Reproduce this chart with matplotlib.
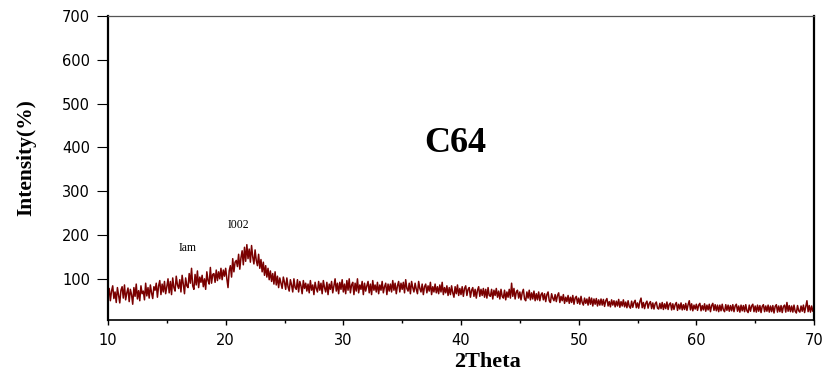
import numpy as np
import matplotlib
matplotlib.use("Agg")
import matplotlib.pyplot as plt

# ---------------------------
# Data (0.1 deg steps)
# ---------------------------
theta_start, theta_step = 10.0, 0.1

intensity = [
    60, 78, 50, 72, 84, 55, 70, 46, 80, 62,          # 10
    45, 74, 82, 56, 86, 52, 68, 79, 48, 76,          # 11
    64, 42, 80, 60, 88, 54, 73, 50, 84, 66,          # 12
    72, 52, 90, 61, 80, 56, 86, 68, 55, 82,          # 13
    74, 90, 58, 84, 96, 64, 88, 70, 94, 66,          # 14
    82, 100, 68, 94, 64, 102, 80, 72, 106, 86,       # 15
    78, 98, 70, 108, 88, 66, 102, 84, 80, 112,       # 16
    90, 124, 84, 76, 110, 86, 118, 80, 104, 92,      # 17
    108, 82, 100, 76, 116, 96, 88, 126, 90, 110,     # 18
    112, 92, 120, 96, 116, 100, 124, 98, 120, 106,   # 19
    124, 100, 80, 118, 130, 104, 146, 116, 138, 142, # 20
    128, 156, 122, 148, 164, 132, 172, 140, 178, 146,  # 21
    168, 138, 176, 150, 134, 166, 142, 130, 156, 124,  # 22
    144, 116, 138, 108, 130, 104, 124, 98, 118, 94,  # 23
    112, 88, 116, 86, 106, 80, 102, 90, 78, 104,     # 24
    92, 76, 102, 82, 72, 98, 86, 70, 100, 80,        # 25
    76, 98, 70, 94, 84, 66, 96, 78, 90, 72,          # 26
    88, 68, 96, 74, 86, 64, 92, 78, 70, 94,          # 27
    74, 90, 66, 96, 80, 70, 92, 64, 88, 76,          # 28
    94, 68, 84, 100, 72, 90, 66, 92, 76, 98,         # 29
    70, 88, 66, 96, 74, 100, 68, 86, 92, 64,         # 30
    90, 72, 100, 68, 86, 76, 94, 64, 90, 72,         # 31
    84, 94, 68, 88, 64, 96, 74, 86, 70, 92,          # 32
    66, 86, 74, 94, 68, 82, 90, 64, 88, 72,          # 33
    88, 70, 96, 74, 90, 66, 84, 94, 70, 90,          # 34
    76, 92, 68, 98, 78, 72, 90, 66, 94, 80,          # 35
    70, 90, 76, 66, 94, 78, 70, 88, 64, 82,          # 36
    88, 68, 84, 72, 92, 64, 82, 70, 88, 68,          # 37
    82, 66, 86, 70, 92, 64, 80, 68, 84, 62,          # 38
    80, 64, 84, 68, 58, 82, 66, 86, 62, 78,          # 39
    64, 82, 60, 78, 84, 62, 76, 80, 58, 74,          # 40
    80, 60, 76, 56, 74, 82, 60, 76, 62, 78,          # 41
    58, 76, 56, 80, 62, 60, 76, 54, 74, 62,          # 42
    78, 58, 72, 54, 76, 60, 56, 74, 52, 70,          # 43
    58, 76, 56, 90, 60, 78, 54, 70, 74, 56,          # 44
    70, 52, 68, 76, 54, 50, 70, 56, 74, 52,          # 45
    68, 54, 72, 50, 66, 52, 70, 50, 64, 68,          # 46
    52, 66, 48, 64, 70, 50, 46, 66, 56, 50,          # 47
    64, 48, 62, 68, 46, 60, 50, 64, 44, 58,          # 48
    48, 62, 44, 58, 46, 62, 42, 56, 60, 44,          # 49
    56, 42, 60, 46, 40, 56, 44, 54, 40, 58,          # 50
    42, 56, 38, 54, 42, 55, 38, 52, 40, 54,          # 51
    40, 53, 37, 50, 55, 38, 48, 36, 52, 40,          # 52
    50, 36, 49, 38, 53, 35, 48, 38, 52, 36,          # 53
    47, 34, 50, 37, 33, 49, 35, 46, 51, 34,          # 54
    45, 33, 48, 56, 34, 46, 32, 44, 49, 33,          # 55
    44, 48, 32, 45, 31, 43, 47, 33, 31, 44,          # 56
    32, 46, 30, 43, 32, 47, 30, 42, 45, 29,          # 57
    43, 30, 41, 46, 28, 42, 31, 45, 29, 41,          # 58
    30, 44, 28, 41, 50, 29, 43, 27, 40, 31,          # 59
    42, 28, 40, 44, 27, 39, 29, 43, 26, 40,          # 60
    29, 42, 25, 39, 44, 28, 41, 27, 40, 25,          # 61
    40, 27, 42, 29, 25, 41, 28, 40, 26, 39,          # 62
    27, 41, 25, 38, 42, 26, 38, 24, 40, 27,          # 63
    39, 25, 41, 27, 23, 40, 26, 38, 42, 25,          # 64
    38, 24, 40, 26, 39, 23, 37, 41, 25, 38,          # 65
    26, 40, 24, 38, 25, 39, 22, 37, 41, 24,          # 66
    38, 25, 39, 23, 37, 40, 24, 46, 26, 39,          # 67
    25, 38, 24, 40, 26, 22, 39, 27, 24, 38,          # 68
    26, 40, 23, 37, 50, 25, 39, 24, 38, 26,          # 69
    36,                                              # 70
]
two_theta = np.round(theta_start + theta_step * np.arange(len(intensity)), 1)

x_ticks = [10, 20, 30, 40, 50, 60, 70]
y_ticks = [100, 200, 300, 400, 500, 600, 700]

sample_name = "C64"
peak_labels = [("Iam", 16.8, 170), ("I002", 21.05, 222)]

LINE_COLOR = "#7a0000"
SERIF = ["Liberation Serif", "DejaVu Serif"]

# ---------------------------
# Plot
# ---------------------------
fig = plt.figure(figsize=(8.27, 3.72), dpi=100)
ax = fig.add_axes([108 / 827, 52 / 372, 706 / 827, 304 / 372])

ax.plot(two_theta, intensity, color=LINE_COLOR, linewidth=1.1)

ax.set_xlim(10, 70)
ax.set_ylim(6, 700)
ax.set_xticks(x_ticks)
ax.set_xticks([15, 25, 35, 45, 55, 65], minor=True)
ax.set_yticks(y_ticks)

ax.tick_params(axis="y", which="major", direction="out", length=8, width=0.8,
               pad=5, labelsize=10.5)
ax.tick_params(axis="x", which="major", direction="out", length=3.5, width=1.0,
               pad=6, labelsize=10.5)
ax.tick_params(axis="x", which="minor", direction="out", length=2, width=1.0)

for side in ("left", "right"):
    ax.spines[side].set_linewidth(1.6)
ax.spines["bottom"].set_linewidth(1.2)
ax.spines["top"].set_linewidth(0.9)
ax.spines["top"].set_color("#555555")

ax.set_xlabel("2Theta", family=SERIF, fontweight="bold", fontsize=16, va="center")
ax.xaxis.set_label_coords(0.537, -0.137)
ax.set_ylabel("Intensity(%)", family=SERIF, fontweight="bold", fontsize=15.5, va="center")
ax.yaxis.set_label_coords(-0.116, 0.533)

ax.text(39.5, 410, sample_name, family=SERIF, fontweight="bold", fontsize=26,
        ha="center", va="center")
for lab, px, py in peak_labels:
    ax.text(px, py, lab, family=SERIF, fontsize=8.5, ha="center", va="center")

fig.savefig("out.png", dpi=100)
